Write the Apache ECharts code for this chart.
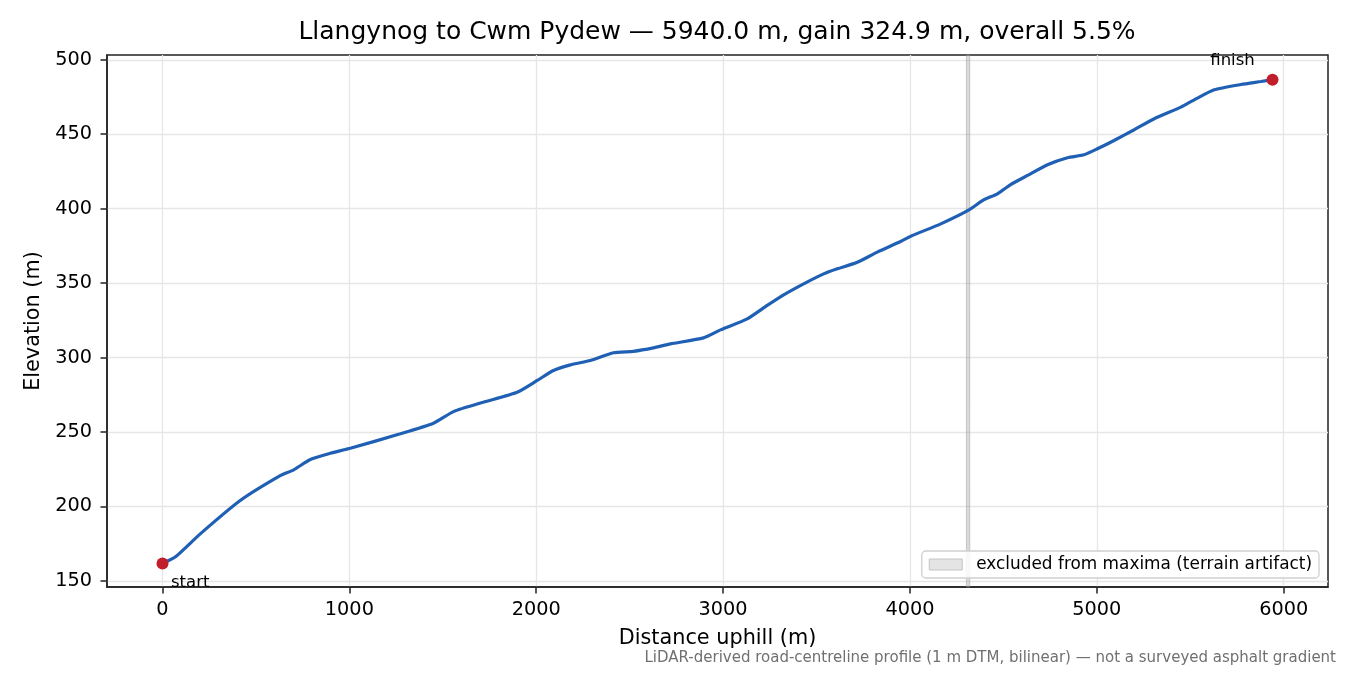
<!DOCTYPE html>
<html>
<head>
<meta charset="utf-8">
<title>Llangynog to Cwm Pydew</title>
<script src="https://cdn.jsdelivr.net/npm/echarts@6.0.0/dist/echarts.min.js"></script>
<style>
html, body { margin: 0; padding: 0; background: #fff; }
#cht { width: 1350px; height: 675px; }
</style>
</head>
<body>
<div id="cht"></div>
<script>
// profile, distance (m) / elevation (m)
var distance = [0, 68, 202, 416, 630, 702, 791, 898, 1005, 1273, 1450, 1557, 1717, 1898, 2005,
    2092, 2183, 2290, 2413, 2520, 2627, 2718, 2895, 2986, 3129, 3236, 3324, 3431, 3538, 3611,
    3718, 3825, 3950, 4004, 4165, 4311, 4396, 4468, 4539, 4629, 4736, 4843, 4932, 5003, 5092,
    5200, 5307, 5450, 5521, 5628, 5771, 5878, 5940];
var elevation = [161.7, 166, 181.6, 204.0, 220.7, 224.6, 231.5, 235.7, 239.1, 248.8, 255.9, 263.7, 270, 276.7, 284.6,
    291.3, 295.1, 298, 303.2, 304.2, 306.5, 309.2, 313.2, 318.6, 326, 335, 342.1, 349.5, 356.2, 359.6,
    364, 370.8, 377.9, 381.5, 389.8, 398.8, 406, 410, 416.2, 422.3, 429.5, 434.2, 436.2, 440.2, 445.8,
    453, 460.4, 468.2, 473.1, 479.8, 483.4, 485.4, 486.6];

var endNames = ['start', 'finish'];
var endDistance = [0, 5940];
var endElevation = [161.7, 486.6];

var xTicks = [0, 1000, 2000, 3000, 4000, 5000, 6000];
var yTicks = [150, 200, 250, 300, 350, 400, 450, 500];

var excludedRange = [4302, 4320];
var excludedName = 'excluded from maxima (terrain artifact)';

var titleText = 'Llangynog to Cwm Pydew \u2014 5940.0 m, gain 324.9 m, overall 5.5%';
var noteText = 'LiDAR-derived road-centreline profile (1 m DTM, bilinear) \u2014 not a surveyed asphalt gradient';

var font = 'DejaVu Sans';
var tickFont = 19.3;
var nameFont = 20.8;

function axisSetup(ticks, margin) {
    return {
        axisLine: { show: true, onZero: false, lineStyle: { color: '#222', width: 1.5 } },
        axisTick: { show: true, length: 6.5, customValues: ticks, lineStyle: { color: '#222', width: 1.5 } },
        axisLabel: {
            customValues: ticks, margin: margin, fontFamily: font, fontSize: tickFont, color: '#000',
            formatter: function (v) { return String(v); }
        },
        splitLine: { show: true, lineStyle: { color: '#e6e6e6', width: 1.3 } }
    };
}

var xAx = axisSetup(xTicks, 13);
var yAx = axisSetup(yTicks, 15);

var config = {
    animation: false,
    textStyle: { fontFamily: font },
    title: {
        text: titleText,
        left: 717,
        top: 20,
        padding: 0,
        textAlign: 'center',
        textStyle: { fontFamily: font, fontSize: 25, fontWeight: 'normal', color: '#000' }
    },
    grid: {
        left: 107,
        right: 22,
        top: 55,
        bottom: 88,
        show: true,
        borderColor: '#222',
        borderWidth: 1.5,
        backgroundColor: 'transparent'
    },
    legend: {
        right: 31,
        bottom: 97,
        orient: 'vertical',
        padding: [5, 7, 5, 7],
        itemWidth: 33,
        itemHeight: 11,
        borderColor: '#d0d0d0',
        borderWidth: 1.3,
        borderRadius: 4,
        backgroundColor: 'rgba(255,255,255,0.85)',
        selectedMode: false,
        formatter: function (n) { return '{t|' + n + '}'; },
        textStyle: {
            fontFamily: font, fontSize: 16.9, color: '#000',
            rich: { t: { fontFamily: font, fontSize: 16.9, color: '#000', padding: [0, 0, 0, 9] } }
        },
        data: [{
            name: excludedName,
            icon: 'rect',
            itemStyle: { color: '#e4e4e4', borderColor: '#c4c4c4', borderWidth: 1 }
        }]
    },
    xAxis: Object.assign({
        type: 'value',
        min: -297,
        max: 6237,
        name: 'Distance uphill (m)',
        nameLocation: 'middle',
        nameGap: 41,
        nameTextStyle: { fontFamily: font, fontSize: nameFont, color: '#000' }
    }, xAx),
    yAxis: Object.assign({
        type: 'value',
        min: 145.9,
        max: 503.2,
        name: 'Elevation (m)',
        nameLocation: 'middle',
        nameGap: 61,
        nameTextStyle: { fontFamily: font, fontSize: nameFont, color: '#000' }
    }, yAx),
    series: [
        {
            name: excludedName,
            type: 'line',
            data: [],
            itemStyle: { color: '#e4e4e4' },
            markArea: {
                silent: true,
                itemStyle: { color: 'rgba(150,150,150,0.35)', borderColor: 'rgba(150,150,150,0.45)', borderWidth: 1 },
                data: [[{ xAxis: excludedRange[0] }, { xAxis: excludedRange[1] }]]
            }
        },
        {
            name: 'profile',
            type: 'line',
            data: distance.map(function (d, i) { return [d, elevation[i]]; }),
            showSymbol: false,
            smooth: 0.2,
            lineStyle: { color: '#1f60b4', width: 3.2 },
            z: 3
        },
        {
            name: 'ends',
            type: 'scatter',
            symbolSize: 12,
            itemStyle: { color: '#c21d2b', opacity: 1 },
            z: 4,
            data: endNames.map(function (n, i) {
                var isStart = i === 0;
                return {
                    name: n,
                    value: [endDistance[i], endElevation[i]],
                    label: {
                        show: true,
                        formatter: n,
                        position: 'inside',
                        align: isStart ? 'left' : 'center',
                        verticalAlign: 'middle',
                        offset: isStart ? [8.5, 19] : [-40, -19],
                        fontFamily: font,
                        fontSize: 16.5,
                        color: '#000'
                    }
                };
            })
        }
    ],
    graphic: [{
        type: 'text',
        right: 14,
        top: 651,
        style: { text: noteText, fontFamily: font, fontSize: 15, fill: '#707070' }
    }]
};

window.onload = function () {
    var myChart = echarts.init(document.getElementById('cht'));
    myChart.setOption(config);
};
</script>
</body>
</html>
